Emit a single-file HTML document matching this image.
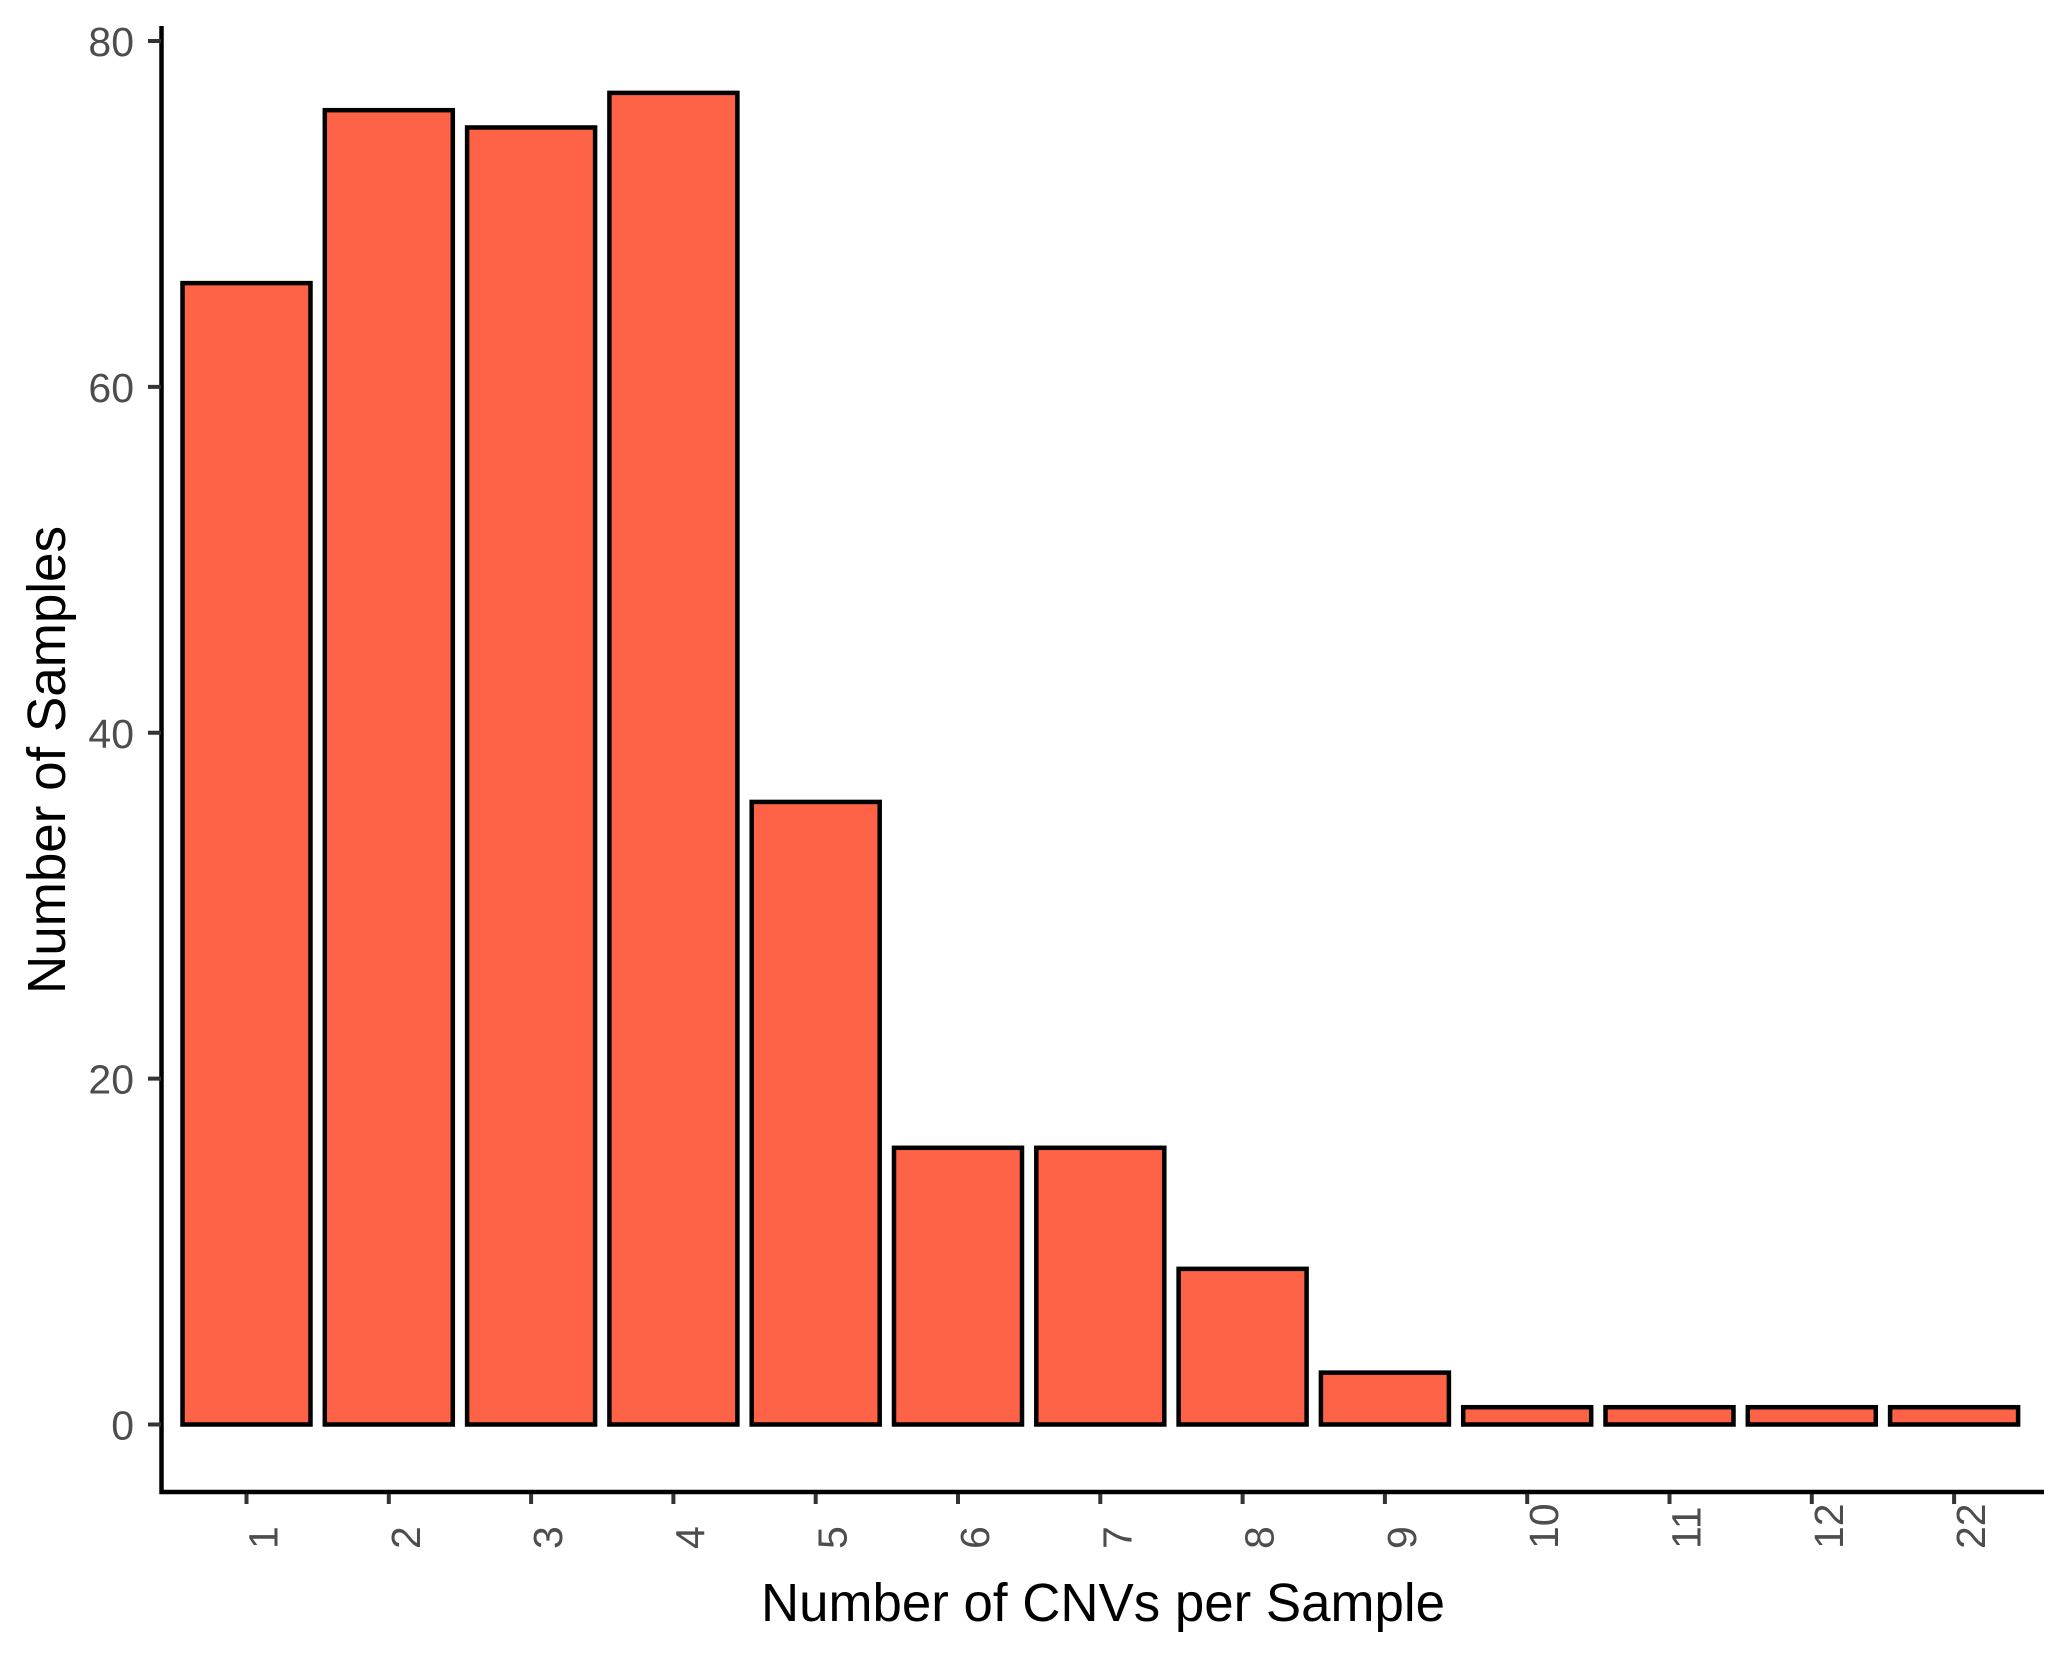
<!DOCTYPE html>
<html><head><meta charset="utf-8"><style>
html,body{margin:0;padding:0;background:#fff;}
svg{display:block;}
text{font-family:"Liberation Sans",Arial,sans-serif;}
</style></head><body>
<svg id="chart" width="2066" height="1653" viewBox="0 0 2066 1653" xmlns="http://www.w3.org/2000/svg">
<rect width="2066" height="1653" fill="#fff"/>
<g id="bars"></g>
<g id="axes"></g>
<text x="1103" y="1621" text-anchor="middle" font-size="54" textLength="684" lengthAdjust="spacingAndGlyphs" fill="#000">Number of CNVs per Sample</text>
<text transform="translate(65,760) rotate(-90)" text-anchor="middle" font-size="54" textLength="468" lengthAdjust="spacingAndGlyphs" fill="#000">Number of Samples</text>
</svg>
<script>
const categories = ["1","2","3","4","5","6","7","8","9","10","11","12","22"];
const counts = [66,76,75,77,36,16,16,9,3,1,1,1,1];
const yTicks = [0,20,40,60,80];

const NS = "http://www.w3.org/2000/svg";
const x0 = 246.5, step = 142.3, barW = 128;
function xPos(i){ return x0 + i*step; }
function yPos(v){ return 1424.5 - v*(1424.5-41)/80; }

const bars = document.getElementById('bars');
const axes = document.getElementById('axes');
function mk(tag, attrs, parent){
  const el = document.createElementNS(NS, tag);
  for (const k in attrs) el.setAttribute(k, attrs[k]);
  parent.appendChild(el);
  return el;
}
counts.forEach((v,i)=>{
  const r = mk('rect',{x:xPos(i)-barW/2, y:yPos(v), width:barW, height:yPos(0)-yPos(v), fill:'#FF6347', stroke:'#000', 'stroke-width':4.5}, bars);
  
  
});
const yl = mk('line',{x1:161.5,y1:26,x2:161.5,y2:1494,stroke:'#000','stroke-width':4.5}, axes);


const xl = mk('line',{x1:159.5,y1:1492,x2:2044,y2:1492,stroke:'#000','stroke-width':4.5}, axes);


yTicks.forEach(t=>{
  const y = yPos(t);
  const tk = mk('line',{x1:148,y1:y,x2:161,y2:y,stroke:'#333','stroke-width':4}, axes);
  
  
  const tx = mk('text',{x:134,y:y+15,'text-anchor':'end','font-size':41,fill:'#4d4d4d'}, axes);
  tx.textContent = String(t);
  
  
});
categories.forEach((c,i)=>{
  const x = xPos(i);
  const tk = mk('line',{x1:x,y1:1494,x2:x,y2:1504,stroke:'#333','stroke-width':4}, axes);
  
  
  const tx = mk('text',{transform:'translate('+(x+31)+',1549) rotate(-90)','text-anchor':'start','font-size':41,fill:'#4d4d4d'}, axes);
  tx.textContent = c;
  
  
});
</script>
</body></html>
